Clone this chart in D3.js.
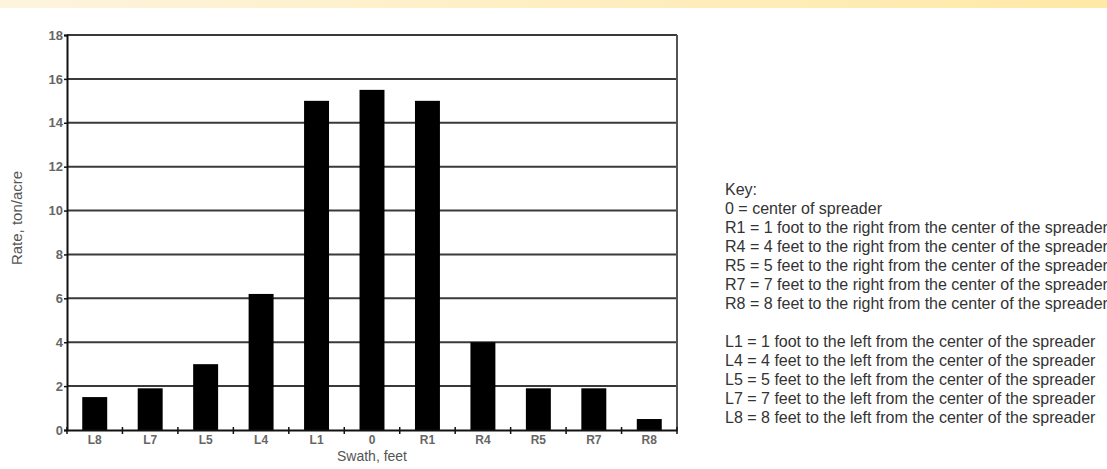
<!DOCTYPE html>
<html>
<head>
<meta charset="utf-8">
<script src="https://cdn.jsdelivr.net/npm/d3@7"></script>
<style>
  html, body { margin: 0; padding: 0; background: #fff; }
  svg { display: block; font-family: "Liberation Sans", Arial, sans-serif; }
</style>
</head>
<body>
<div id="chart"></div>
<script>
// Spreader swath distribution - bar chart

const swathLabels = ['L8', 'L7', 'L5', 'L4', 'L1', '0', 'R1', 'R4', 'R5', 'R7', 'R8'];
const rateValues = [1.5, 1.9, 3.0, 6.2, 15.0, 15.5, 15.0, 4.0, 1.9, 1.9, 0.5];
const yTicks = [0, 2, 4, 6, 8, 10, 12, 14, 16, 18];
const keyLines = [
    'Key:',
    '0 = center of spreader',
    'R1 = 1 foot to the right from the center of the spreader',
    'R4 = 4 feet to the right from the center of the spreader',
    'R5 = 5 feet to the right from the center of the spreader',
    'R7 = 7 feet to the right from the center of the spreader',
    'R8 = 8 feet to the right from the center of the spreader',
    '',
    'L1 = 1 foot to the left from the center of the spreader',
    'L4 = 4 feet to the left from the center of the spreader',
    'L5 = 5 feet to the left from the center of the spreader',
    'L7 = 7 feet to the left from the center of the spreader',
    'L8 = 8 feet to the left from the center of the spreader'
];

function drawChart() {
    const width = 1107, height = 469;
    const svg = d3.select('#chart').append('svg')
        .attr('width', width)
        .attr('height', height);

    // yellow strip along the top
    const grad = svg.append('defs').append('linearGradient')
        .attr('id', 'topband')
        .attr('x1', '0%').attr('x2', '100%');
    grad.append('stop').attr('offset', '0%').attr('stop-color', '#fdf4de');
    grad.append('stop').attr('offset', '100%').attr('stop-color', '#ffe9a6');
    svg.append('rect')
        .attr('x', 0).attr('y', 0)
        .attr('width', width).attr('height', 8)
        .attr('fill', 'url(#topband)');

    const left = 67, right = 677, top = 35, bottom = 430;

    const x = d3.scaleBand()
        .domain(swathLabels)
        .range([left, right])
        .paddingInner(0.55)
        .paddingOuter(0.275);

    const y = d3.scaleLinear()
        .domain([0, 18])
        .range([bottom, top]);

    // gridlines
    svg.append('g')
        .selectAll('line')
        .data(yTicks.filter(d => d > 0))
        .enter()
        .append('line')
        .attr('x1', left)
        .attr('x2', right)
        .attr('y1', d => y(d))
        .attr('y2', d => y(d))
        .attr('stroke', '#3a3a3a')
        .attr('stroke-width', 2);

    // right border
    svg.append('line')
        .attr('x1', right).attr('x2', right)
        .attr('y1', top).attr('y2', bottom)
        .attr('stroke', '#555')
        .attr('stroke-width', 2);

    // bars
    svg.append('g')
        .selectAll('rect')
        .data(rateValues)
        .enter()
        .append('rect')
        .attr('x', (d, i) => x(swathLabels[i]))
        .attr('y', d => y(d))
        .attr('width', x.bandwidth())
        .attr('height', d => bottom - y(d))
        .attr('fill', '#000');

    // y axis
    const yAxis = svg.append('g')
        .attr('transform', `translate(${left},0)`)
        .call(d3.axisLeft(y).tickValues(yTicks).tickSize(3).tickPadding(1));
    yAxis.select('.domain').attr('stroke', '#111').attr('stroke-width', 2);
    yAxis.selectAll('.tick line').attr('stroke', '#111').attr('stroke-width', 1.5);
    yAxis.selectAll('text')
        .attr('font-size', '13px')
        .attr('font-weight', '700')
        .attr('fill', '#666');

    // x axis with ticks on band boundaries
    const xAxis = svg.append('g')
        .attr('transform', `translate(0,${bottom})`)
        .call(d3.axisBottom(x).tickSize(0).tickPadding(5));
    xAxis.select('.domain').attr('stroke', '#111').attr('stroke-width', 2);
    xAxis.selectAll('text')
        .attr('font-size', '12px')
        .attr('font-weight', '700')
        .attr('fill', '#666');

    const step = x.step();
    const bounds = d3.range(swathLabels.length + 1).map(i => left + i * step);
    xAxis.selectAll('.bound')
        .data(bounds)
        .enter()
        .append('line')
        .attr('class', 'bound')
        .attr('x1', d => d).attr('x2', d => d)
        .attr('y1', -3).attr('y2', 4)
        .attr('stroke', '#111')
        .attr('stroke-width', 1.5);

    // axis titles
    svg.append('text')
        .attr('transform', 'translate(22,218) rotate(-90)')
        .attr('text-anchor', 'middle')
        .attr('font-size', '15px')
        .attr('fill', '#555')
        .text('Rate, ton/acre');

    svg.append('text')
        .attr('x', (left + right) / 2)
        .attr('y', 461)
        .attr('text-anchor', 'middle')
        .attr('font-size', '14px')
        .attr('fill', '#555')
        .text('Swath, feet');

    // key
    svg.append('g')
        .selectAll('text')
        .data(keyLines)
        .enter()
        .append('text')
        .attr('x', 725)
        .attr('y', (d, i) => 195 + i * 19)
        .attr('font-size', '16px')
        .attr('fill', '#333')
        .text(d => d);
}

drawChart();
</script>
</body>
</html>
